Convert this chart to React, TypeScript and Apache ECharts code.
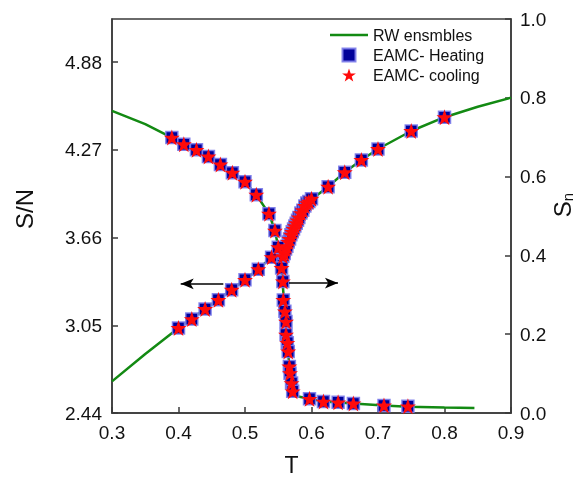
import React, { useEffect, useRef } from "react";
import * as echarts from "echarts";

// ---------- data ----------
const xTicks = [0.3, 0.4, 0.5, 0.6, 0.7, 0.8, 0.9];

// S/N (left axis) – EAMC markers
const markT_SN = [0.40, 0.42, 0.44, 0.46, 0.48, 0.50, 0.52, 0.54,
  0.557, 0.559, 0.561, 0.563, 0.565, 0.567, 0.569, 0.571, 0.573, 0.575,
  0.577, 0.579, 0.581, 0.584, 0.587, 0.590, 0.593, 0.596, 0.600,
  0.625, 0.65, 0.675, 0.70, 0.75, 0.80];
const markSN = [3.031, 3.093, 3.163, 3.227, 3.297, 3.366, 3.440, 3.524,
  3.53, 3.55, 3.58, 3.60, 3.63, 3.65, 3.68, 3.70, 3.72, 3.74,
  3.76, 3.78, 3.80, 3.83, 3.85, 3.88, 3.90, 3.91, 3.93,
  4.014, 4.114, 4.200, 4.276, 4.401, 4.497];

// S_n (right axis) – EAMC markers
const markT_Sn = [0.390, 0.408, 0.427, 0.445, 0.463, 0.481, 0.500, 0.517, 0.536, 0.545, 0.550,
  0.555, 0.557, 0.5576, 0.560, 0.5617, 0.5617, 0.5636, 0.565, 0.5667, 0.5677, 0.570, 0.5717,
  0.597, 0.618, 0.640, 0.663, 0.709, 0.745];
const markSn = [0.699, 0.682, 0.668, 0.651, 0.631, 0.610, 0.587, 0.554, 0.506, 0.463, 0.421,
  0.368, 0.334, 0.287, 0.258, 0.232, 0.199, 0.178, 0.156, 0.118, 0.101, 0.076, 0.055,
  0.036, 0.029, 0.027, 0.024, 0.019, 0.017];

// RW ensembles curves
const rwT_SN = [0.30, 0.35, 0.40, 0.44, 0.48, 0.52, 0.54, 0.5567, 0.5647, 0.5726, 0.5812,
  0.5902, 0.6003, 0.625, 0.65, 0.675, 0.70, 0.75, 0.80, 0.85, 0.90];
const rwSN = [2.66, 2.85, 3.031, 3.163, 3.297, 3.44, 3.524, 3.53, 3.623, 3.714, 3.804,
  3.88, 3.927, 4.014, 4.114, 4.200, 4.276, 4.401, 4.497, 4.57, 4.633];

const rwT_Sn = [0.30, 0.35, 0.39, 0.427, 0.463, 0.50, 0.517, 0.536, 0.545, 0.55, 0.555, 0.557,
  0.560, 0.5636, 0.5667, 0.570, 0.5717, 0.575, 0.58, 0.597, 0.618, 0.663, 0.709, 0.745, 0.80, 0.845];
const rwSn = [0.767, 0.733, 0.699, 0.668, 0.631, 0.587, 0.554, 0.506, 0.463, 0.421, 0.368, 0.32,
  0.258, 0.178, 0.118, 0.076, 0.055, 0.046, 0.042, 0.036, 0.029, 0.024, 0.019, 0.016, 0.014, 0.0127];

// arrows (data coordinates)
const arrowLeft = { from: [0.4674, 3.338], to: [0.4033, 3.338] };
const arrowRight = { from: [0.5662, 0.3297], to: [0.6398, 0.3297] };

const zip = (xs: number[], ys: number[]) => xs.map((x, i) => [x, ys[i]]);

const FONT = "Liberation Sans, Arial, sans-serif";
const GREEN = "#138a13";
const BLUE = "#00009a";
const RED = "#ff0a0a";
const AXIS = "#3a3a3a";
const STAR =
  "path://M50,2 L61.8,36.2 L97.6,36.2 L68.9,57.6 L79.4,92 L50,71.3 L20.6,92 L31.1,57.6 L2.4,36.2 L38.2,36.2 Z";
const SQUARE_ICON = "path://M0,0 L10,0 L10,10 L0,10 Z";
const LINE_ICON = "path://M0,0 L38,0 L38,2.6 L0,2.6 Z";

const squareStyle = { color: BLUE, borderColor: "rgba(125,125,235,0.9)", borderWidth: 1.5, opacity: 1 };
const starStyle = { color: RED, opacity: 1 };

function arrowMark(a: { from: number[]; to: number[] }) {
  return {
    silent: true,
    animation: false,
    symbol: ["none", "arrow"],
    symbolSize: [8, 13],
    label: { show: false },
    lineStyle: { color: "#000", width: 1.5, type: "solid" },
    emphasis: { disabled: true },
    data: [[{ coord: a.from }, { coord: a.to }]],
  };
}

export default function App() {
  const ref = useRef<HTMLDivElement>(null);
  useEffect(() => {
    const chart = echarts.init(ref.current!, null, { renderer: "svg" });
    chart.setOption({
      animation: false,
      textStyle: { fontFamily: FONT, color: "#111" },
      grid: {
        left: 112, right: 71, top: 19, bottom: 67,
        containLabel: false,
        outerBoundsMode: "none",
        show: true, borderColor: AXIS, borderWidth: 1.5, backgroundColor: "transparent",
      },
      legend: {
        orient: "vertical",
        left: 325,
        top: 22,
        padding: 5,
        itemWidth: 38,
        itemHeight: 13,
        itemGap: 4,
        textStyle: { fontFamily: FONT, fontSize: 16, color: "#111" },
        data: [
          { name: "RW ensmbles", icon: LINE_ICON, itemStyle: { color: GREEN, borderWidth: 0 } },
          { name: "EAMC- Heating", icon: SQUARE_ICON },
          { name: "EAMC- cooling", icon: STAR },
        ],
      },
      xAxis: {
        type: "value",
        min: xTicks[0],
        max: xTicks[xTicks.length - 1],
        interval: 0.1,
        name: "T",
        nameLocation: "middle",
        nameGap: 40,
        nameTextStyle: { fontFamily: FONT, fontSize: 23, color: "#111", padding: [0, 40, 0, 0] },
        axisLine: { lineStyle: { color: AXIS, width: 1.5 } },
        axisTick: { inside: true, length: 6, lineStyle: { color: AXIS, width: 1.5 } },
        axisLabel: { fontSize: 19, color: "#111", margin: 10, formatter: (v: number) => v.toFixed(1) },
        splitLine: { show: false },
      },
      yAxis: [
        {
          type: "value",
          position: "left",
          min: 2.44,
          max: 5.18,
          interval: 0.61,
          name: "S/N",
          nameLocation: "middle",
          nameGap: 76,
          nameTextStyle: { fontFamily: FONT, fontSize: 24, color: "#111", padding: [0, 0, 0, 14] },
          axisLine: { lineStyle: { color: AXIS, width: 1.5 } },
          axisTick: { inside: true, length: 6, lineStyle: { color: AXIS, width: 1.5 } },
          axisLabel: { fontSize: 19, color: "#111", margin: 10, showMaxLabel: false, formatter: (v: number) => v.toFixed(2) },
          splitLine: { show: false },
        },
        {
          type: "value",
          position: "right",
          min: 0,
          max: 1,
          interval: 0.2,
          name: "{s|S}{n|n}",
          nameLocation: "middle",
          nameGap: 38,
          nameMoveOverlap: false,
          nameTextStyle: {
            fontFamily: FONT, color: "#111", padding: [0, 0, 0, 22],
            rich: {
              s: { fontFamily: FONT, fontSize: 24, color: "#111" },
              n: { fontFamily: FONT, fontSize: 15, color: "#111", padding: [11, 0, 0, 0] },
            },
          },
          axisLine: { lineStyle: { color: AXIS, width: 1.5 } },
          axisTick: { inside: true, length: 6, lineStyle: { color: AXIS, width: 1.5 } },
          axisLabel: { fontSize: 19, color: "#111", margin: 9, formatter: (v: number) => v.toFixed(1) },
          splitLine: { show: false },
        },
      ],
      series: [
        {
          name: "RW ensmbles",
          type: "line",
          yAxisIndex: 0,
          symbol: "none",
          smooth: false,
          lineStyle: { color: GREEN, width: 2.5 },
          itemStyle: { color: GREEN },
          data: zip(rwT_SN, rwSN),
          markLine: arrowMark(arrowLeft),
          z: 2,
        },
        {
          name: "RW ensmbles",
          type: "line",
          yAxisIndex: 1,
          symbol: "none",
          smooth: false,
          lineStyle: { color: GREEN, width: 2.5 },
          itemStyle: { color: GREEN },
          data: zip(rwT_Sn, rwSn),
          markLine: arrowMark(arrowRight),
          z: 2,
        },
        {
          name: "EAMC- Heating",
          type: "scatter",
          yAxisIndex: 0,
          symbol: "rect",
          symbolSize: 12,
          itemStyle: squareStyle,
          data: zip(markT_SN, markSN),
          z: 3,
        },
        {
          name: "EAMC- Heating",
          type: "scatter",
          yAxisIndex: 1,
          symbol: "rect",
          symbolSize: 12,
          itemStyle: squareStyle,
          data: zip(markT_Sn, markSn),
          z: 3,
        },
        {
          name: "EAMC- cooling",
          type: "scatter",
          yAxisIndex: 0,
          symbol: STAR,
          symbolSize: 16,
          itemStyle: starStyle,
          data: zip(markT_SN, markSN),
          z: 4,
        },
        {
          name: "EAMC- cooling",
          type: "scatter",
          yAxisIndex: 1,
          symbol: STAR,
          symbolSize: 16,
          itemStyle: starStyle,
          data: zip(markT_Sn, markSn),
          z: 4,
        },
      ],
    });
    return () => chart.dispose();
  }, []);
  return <div ref={ref} style={{ position: "fixed", left: 0, top: 0, width: 582, height: 480 }} />;
}
